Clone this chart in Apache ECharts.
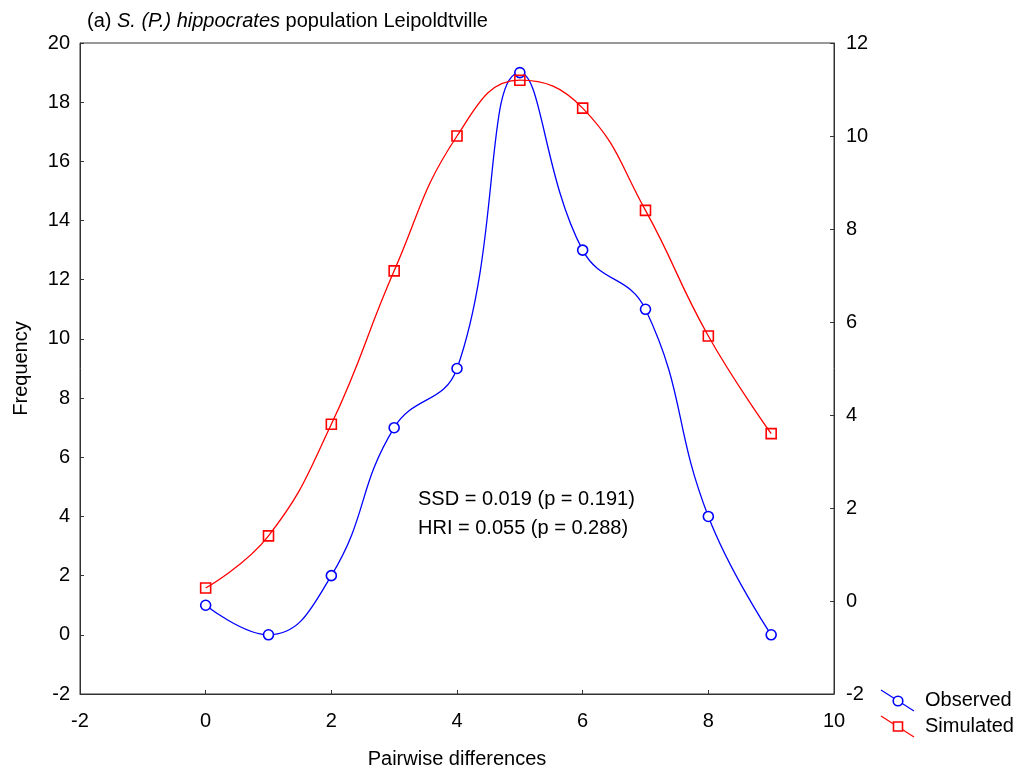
<!DOCTYPE html>
<html lang="en">
<head>
	<meta charset="UTF-8">
	<title>Pairwise differences</title>
	<script src="https://cdn.jsdelivr.net/npm/echarts@6/dist/echarts.min.js"></script>
	<style>
		html, body { margin: 0; padding: 0; background: #fff; }
		#chart { width: 1026px; height: 769px; }
	</style>
</head>
<body>
	<div id="chart"></div>
	<script>
	// data
	var diffs = [0, 1, 2, 3, 4, 5, 6, 7, 8, 9];
	var observed = [1, 0, 2, 7, 9, 19, 13, 11, 4, 0];
	var simulated = [0.28, 1.4, 3.8, 7.1, 10.0, 11.2, 10.6, 8.4, 5.7, 3.6];
	var statLines = ['SSD = 0.019 (p = 0.191)', 'HRI = 0.055 (p = 0.288)'];

	var font = 'Liberation Sans, Arial, sans-serif';
	var fs = 20;
	var myChart = echarts.init(document.getElementById('chart'));

	function pairs(ys) {
		return diffs.map(function (x, i) { return [x, ys[i]]; });
	}

	var axisCommon = {
		axisLine: { show: true, onZero: false, lineStyle: { color: '#333', width: 1 } },
		axisTick: { show: true, inside: true, length: 4, lineStyle: { color: '#333' } },
		axisLabel: { color: '#000', fontSize: fs, fontFamily: font },
		splitLine: { show: false }
	};

	var option = {
		backgroundColor: '#fff',
		animation: false,
		title: {
			left: 82,
			top: 6,
			text: '(a) {i|S. (P.) hippocrates} population Leipoldtville',
			textStyle: {
				fontSize: fs, fontWeight: 'normal', color: '#000', fontFamily: font,
				rich: { i: { fontStyle: 'italic', fontSize: fs, color: '#000', fontFamily: font } }
			}
		},
		grid: {
			left: 80, right: 192, top: 43, bottom: 75,
			outerBoundsMode: 'none', containLabel: false,
			show: true, borderColor: '#333', borderWidth: 1
		},
		xAxis: Object.assign({}, axisCommon, {
			type: 'value', min: -2, max: 10, interval: 2,
			name: 'Pairwise differences', nameLocation: 'middle', nameGap: 55,
			nameTextStyle: { fontSize: fs, color: '#000', fontFamily: font },
			axisLabel: Object.assign({}, axisCommon.axisLabel, { margin: 17 })
		}),
		yAxis: [
			Object.assign({}, axisCommon, {
				type: 'value', min: -2, max: 20, interval: 2,
				name: 'Frequency', nameLocation: 'middle', nameGap: 49, nameRotate: 90,
				nameTextStyle: { fontSize: fs, color: '#000', fontFamily: font },
				axisLabel: Object.assign({}, axisCommon.axisLabel, { margin: 10 })
			}),
			Object.assign({}, axisCommon, {
				type: 'value', min: -2, max: 12, interval: 2, position: 'right',
				axisLabel: Object.assign({}, axisCommon.axisLabel, { margin: 12 })
			})
		],
		series: [
			{
				name: 'Observed', type: 'line', yAxisIndex: 0,
				data: pairs(observed), smooth: 0.45,
				symbol: 'circle', symbolSize: 10, showAllSymbol: true,
				lineStyle: { color: '#0000ff', width: 1.3 },
				itemStyle: { color: '#fff', borderColor: '#0000ff', borderWidth: 1.6 },
				z: 3
			},
			{
				name: 'Simulated', type: 'line', yAxisIndex: 1,
				data: pairs(simulated), smooth: 0.45,
				symbol: 'rect', symbolSize: 10, showAllSymbol: true,
				lineStyle: { color: '#ff0000', width: 1.3 },
				itemStyle: { color: 'rgba(255,255,255,0)', borderColor: '#ff0000', borderWidth: 1.6 },
				z: 4
			}
		],
		graphic: [
			{ type: 'text', left: 418, top: 489, style: { text: statLines[0], fill: '#000', font: fs + 'px ' + font } },
			{ type: 'text', left: 418, top: 518, style: { text: statLines[1], fill: '#000', font: fs + 'px ' + font } },
			// legend, drawn like the original (diagonal line through marker)
			{ type: 'line', shape: { x1: 881, y1: 690, x2: 914, y2: 711 }, style: { stroke: '#0000ff', lineWidth: 1.2 } },
			{ type: 'circle', shape: { cx: 898, cy: 701, r: 4.8 }, style: { fill: '#fff', stroke: '#0000ff', lineWidth: 1.6 } },
			{ type: 'text', left: 925, top: 690, style: { text: 'Observed', font: fs + 'px ' + font, fill: '#000' } },
			{ type: 'line', shape: { x1: 881, y1: 716, x2: 914, y2: 737 }, style: { stroke: '#ff0000', lineWidth: 1.2 } },
			{ type: 'rect', shape: { x: 893.5, y: 722, width: 9, height: 9 }, style: { fill: '#fff', stroke: '#ff0000', lineWidth: 1.6 } },
			{ type: 'text', left: 925, top: 716, style: { text: 'Simulated', font: fs + 'px ' + font, fill: '#000' } }
		]
	};

	myChart.setOption(option);
	</script>
</body>
</html>
